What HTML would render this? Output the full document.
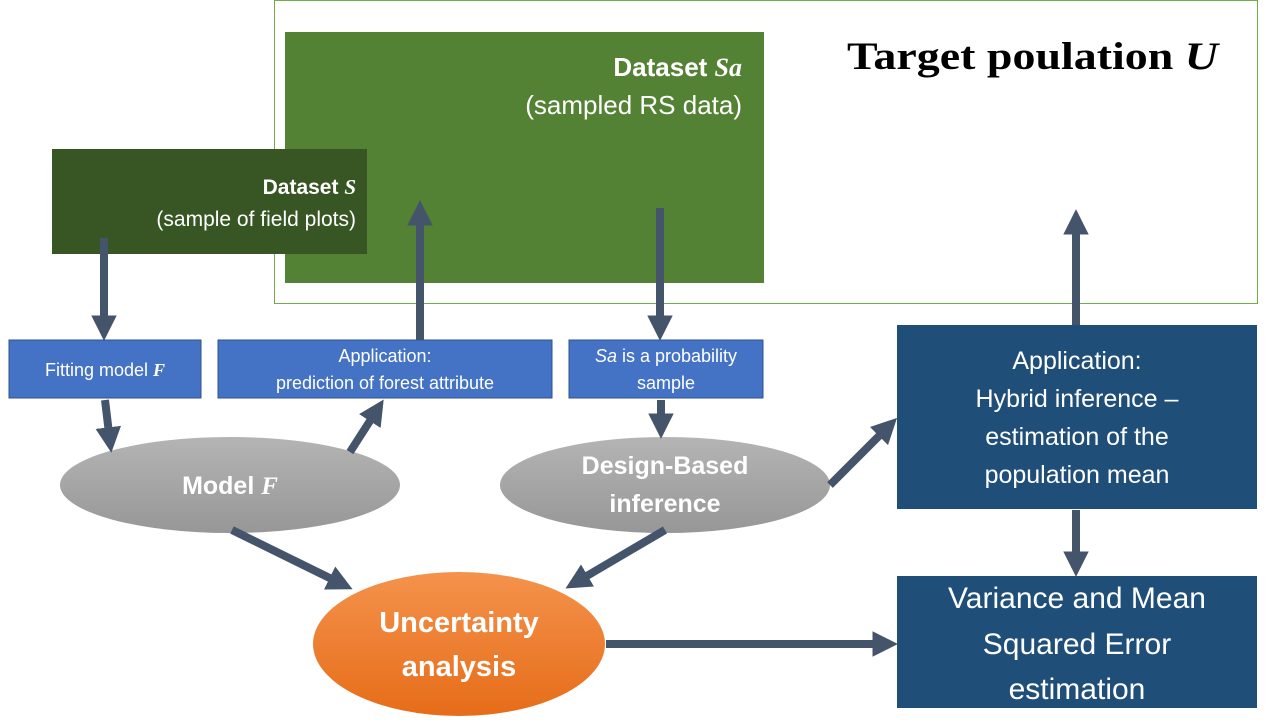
<!DOCTYPE html>
<html><head><style>body{margin:0;background:#fff}svg{display:block}text{font-family:"Liberation Sans",sans-serif}.s{font-family:"Liberation Serif",serif}</style></head><body>
<svg width="1280" height="720" viewBox="0 0 1280 720">
<defs>
<marker id="a" viewBox="0 0 10 10" refX="3" refY="5" markerWidth="3.2" markerHeight="3.2" orient="auto"><path d="M0,0L10,5L0,10z" fill="#44546A"/></marker>
<linearGradient id="g" x1="0" y1="0" x2="0" y2="1"><stop offset="0" stop-color="#b4b4b4"/><stop offset="1" stop-color="#979797"/></linearGradient>
<linearGradient id="o" x1="0" y1="0" x2="0" y2="1"><stop offset="0" stop-color="#f4924c"/><stop offset="1" stop-color="#e66d19"/></linearGradient>
</defs>
<rect x="274.5" y="0.5" width="983" height="303" fill="#fff" stroke="#70ad47"/>
<text x="847" y="69" class="s" font-weight="bold" font-size="39" textLength="371" lengthAdjust="spacingAndGlyphs">Target poulation <tspan font-style="italic">U</tspan></text>
<rect x="285" y="32" width="479" height="251" fill="#548235"/>
<text x="742" y="76" text-anchor="end" fill="#fff" font-size="26" font-weight="bold">Dataset <tspan class="s" font-style="italic">Sa</tspan></text>
<text x="742" y="114" text-anchor="end" fill="#fff" font-size="26">(sampled RS data)</text>
<rect x="52" y="149" width="315" height="105" fill="#375623"/>
<text x="356" y="194" text-anchor="end" fill="#fff" font-size="21" font-weight="bold">Dataset <tspan class="s" font-style="italic">S</tspan></text>
<text x="356" y="226" text-anchor="end" fill="#fff" font-size="21">(sample of field plots)</text>
<g fill="#4472C4" stroke="#2f528f"><rect x="9" y="340" width="192" height="58"/><rect x="218" y="340" width="334" height="58"/><rect x="569" y="340" width="194" height="58"/></g>
<g fill="#fff" font-size="18" text-anchor="middle">
<text x="105" y="376">Fitting model <tspan class="s" font-style="italic" font-weight="bold">F</tspan></text>
<text x="385" y="362">Application:</text><text x="385" y="389">prediction of forest attribute</text>
<text x="666" y="362"><tspan font-style="italic">Sa</tspan> is a probability</text><text x="666" y="389">sample</text>
</g>
<rect x="897" y="325" width="360" height="184" fill="#1F4E79"/>
<g fill="#fff" font-size="25" text-anchor="middle"><text x="1077" y="369">Application:</text><text x="1077" y="407">Hybrid inference –</text><text x="1077" y="445">estimation of the</text><text x="1077" y="483">population mean</text></g>
<rect x="897" y="576" width="360" height="132" fill="#1F4E79"/>
<g fill="#fff" font-size="30" text-anchor="middle"><text x="1077" y="608">Variance and Mean</text><text x="1077" y="654">Squared Error</text><text x="1077" y="699">estimation</text></g>
<ellipse cx="230" cy="485" rx="170" ry="48" fill="url(#g)"/>
<text x="230" y="494" text-anchor="middle" fill="#fff" font-size="25" font-weight="bold">Model <tspan class="s" font-style="italic">F</tspan></text>
<ellipse cx="665" cy="485" rx="165" ry="48" fill="url(#g)"/>
<g fill="#fff" font-size="25" font-weight="bold" text-anchor="middle"><text x="665" y="474">Design-Based</text><text x="665" y="512">inference</text></g>
<ellipse cx="459" cy="644" rx="146" ry="72" fill="url(#o)"/>
<g fill="#fff" font-size="29" font-weight="bold" text-anchor="middle"><text x="459" y="632">Uncertainty</text><text x="459" y="676">analysis</text></g>
<g stroke="#44546A" stroke-width="8" marker-end="url(#a)" fill="none">
<line x1="104" y1="238" x2="104" y2="323"/>
<line x1="105" y1="400" x2="109.2" y2="435"/>
<line x1="350" y1="452" x2="374" y2="414.6"/>
<line x1="420" y1="340" x2="420" y2="218"/>
<line x1="660" y1="208" x2="660" y2="323"/>
<line x1="661" y1="400" x2="661" y2="421"/>
<line x1="232" y1="530" x2="336.5" y2="581.4"/>
<line x1="665" y1="530" x2="580.9" y2="579.4"/>
<line x1="830" y1="485" x2="884.4" y2="430.6"/>
<line x1="606" y1="644" x2="880" y2="644"/>
<line x1="1076" y1="325" x2="1076" y2="227"/>
<line x1="1076" y1="510" x2="1076" y2="559"/>
</g>
</svg></body></html>
